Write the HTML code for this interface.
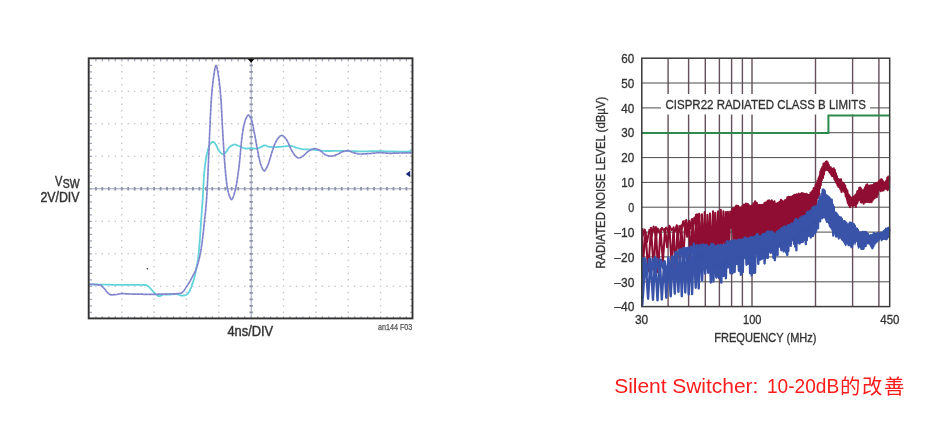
<!DOCTYPE html>
<html lang="zh"><head><meta charset="utf-8"><title>Silent Switcher</title>
<style>html,body{margin:0;padding:0;background:#fff}body{width:952px;height:442px;overflow:hidden;position:relative}svg{position:absolute;left:0;top:0;display:block}.cap{position:absolute;left:614.2px;top:371.7px;margin:0;white-space:nowrap;color:#fe1b1b;font:21px/28px "Liberation Sans","Noto Sans CJK SC",sans-serif}.cap .a{letter-spacing:-.04px}.cap .b{display:inline-block;transform:scaleX(.909);transform-origin:0 50%;margin-left:2.6px;margin-right:-7.2px}.cap .c{font-size:20.4px;letter-spacing:1.6px;margin-left:1px;position:relative;top:1.4px}</style></head><body>
<svg width="952" height="442" viewBox="0 0 952 442">
<defs><filter id="bl" x="0" y="0" width="476" height="442" filterUnits="userSpaceOnUse"><feGaussianBlur stdDeviation="0.65"/></filter><filter id="br" x="476" y="0" width="476" height="442" filterUnits="userSpaceOnUse"><feGaussianBlur stdDeviation="0.4"/></filter></defs>
<rect width="952" height="442" fill="#fff"/>
<g filter="url(#bl)">
<path d="M121.8 65.3h0.01M121.8 71.8h0.01M121.8 78.3h0.01M121.8 84.8h0.01M121.8 91.3h0.01M121.8 97.8h0.01M121.8 104.3h0.01M121.8 110.8h0.01M121.8 117.3h0.01M121.8 123.8h0.01M121.8 130.3h0.01M121.8 136.8h0.01M121.8 143.3h0.01M121.8 149.8h0.01M121.8 156.3h0.01M121.8 162.8h0.01M121.8 169.3h0.01M121.8 175.8h0.01M121.8 182.3h0.01M121.8 188.8h0.01M121.8 195.3h0.01M121.8 201.8h0.01M121.8 208.3h0.01M121.8 214.8h0.01M121.8 221.3h0.01M121.8 227.8h0.01M121.8 234.3h0.01M121.8 240.8h0.01M121.8 247.3h0.01M121.8 253.8h0.01M121.8 260.3h0.01M121.8 266.8h0.01M121.8 273.3h0.01M121.8 279.8h0.01M121.8 286.3h0.01M121.8 292.8h0.01M121.8 299.3h0.01M121.8 305.8h0.01M121.8 312.3h0.01M154.1 65.3h0.01M154.1 71.8h0.01M154.1 78.3h0.01M154.1 84.8h0.01M154.1 91.3h0.01M154.1 97.8h0.01M154.1 104.3h0.01M154.1 110.8h0.01M154.1 117.3h0.01M154.1 123.8h0.01M154.1 130.3h0.01M154.1 136.8h0.01M154.1 143.3h0.01M154.1 149.8h0.01M154.1 156.3h0.01M154.1 162.8h0.01M154.1 169.3h0.01M154.1 175.8h0.01M154.1 182.3h0.01M154.1 188.8h0.01M154.1 195.3h0.01M154.1 201.8h0.01M154.1 208.3h0.01M154.1 214.8h0.01M154.1 221.3h0.01M154.1 227.8h0.01M154.1 234.3h0.01M154.1 240.8h0.01M154.1 247.3h0.01M154.1 253.8h0.01M154.1 260.3h0.01M154.1 266.8h0.01M154.1 273.3h0.01M154.1 279.8h0.01M154.1 286.3h0.01M154.1 292.8h0.01M154.1 299.3h0.01M154.1 305.8h0.01M154.1 312.3h0.01M186.5 65.3h0.01M186.5 71.8h0.01M186.5 78.3h0.01M186.5 84.8h0.01M186.5 91.3h0.01M186.5 97.8h0.01M186.5 104.3h0.01M186.5 110.8h0.01M186.5 117.3h0.01M186.5 123.8h0.01M186.5 130.3h0.01M186.5 136.8h0.01M186.5 143.3h0.01M186.5 149.8h0.01M186.5 156.3h0.01M186.5 162.8h0.01M186.5 169.3h0.01M186.5 175.8h0.01M186.5 182.3h0.01M186.5 188.8h0.01M186.5 195.3h0.01M186.5 201.8h0.01M186.5 208.3h0.01M186.5 214.8h0.01M186.5 221.3h0.01M186.5 227.8h0.01M186.5 234.3h0.01M186.5 240.8h0.01M186.5 247.3h0.01M186.5 253.8h0.01M186.5 260.3h0.01M186.5 266.8h0.01M186.5 273.3h0.01M186.5 279.8h0.01M186.5 286.3h0.01M186.5 292.8h0.01M186.5 299.3h0.01M186.5 305.8h0.01M186.5 312.3h0.01M218.8 65.3h0.01M218.8 71.8h0.01M218.8 78.3h0.01M218.8 84.8h0.01M218.8 91.3h0.01M218.8 97.8h0.01M218.8 104.3h0.01M218.8 110.8h0.01M218.8 117.3h0.01M218.8 123.8h0.01M218.8 130.3h0.01M218.8 136.8h0.01M218.8 143.3h0.01M218.8 149.8h0.01M218.8 156.3h0.01M218.8 162.8h0.01M218.8 169.3h0.01M218.8 175.8h0.01M218.8 182.3h0.01M218.8 188.8h0.01M218.8 195.3h0.01M218.8 201.8h0.01M218.8 208.3h0.01M218.8 214.8h0.01M218.8 221.3h0.01M218.8 227.8h0.01M218.8 234.3h0.01M218.8 240.8h0.01M218.8 247.3h0.01M218.8 253.8h0.01M218.8 260.3h0.01M218.8 266.8h0.01M218.8 273.3h0.01M218.8 279.8h0.01M218.8 286.3h0.01M218.8 292.8h0.01M218.8 299.3h0.01M218.8 305.8h0.01M218.8 312.3h0.01M283.5 65.3h0.01M283.5 71.8h0.01M283.5 78.3h0.01M283.5 84.8h0.01M283.5 91.3h0.01M283.5 97.8h0.01M283.5 104.3h0.01M283.5 110.8h0.01M283.5 117.3h0.01M283.5 123.8h0.01M283.5 130.3h0.01M283.5 136.8h0.01M283.5 143.3h0.01M283.5 149.8h0.01M283.5 156.3h0.01M283.5 162.8h0.01M283.5 169.3h0.01M283.5 175.8h0.01M283.5 182.3h0.01M283.5 188.8h0.01M283.5 195.3h0.01M283.5 201.8h0.01M283.5 208.3h0.01M283.5 214.8h0.01M283.5 221.3h0.01M283.5 227.8h0.01M283.5 234.3h0.01M283.5 240.8h0.01M283.5 247.3h0.01M283.5 253.8h0.01M283.5 260.3h0.01M283.5 266.8h0.01M283.5 273.3h0.01M283.5 279.8h0.01M283.5 286.3h0.01M283.5 292.8h0.01M283.5 299.3h0.01M283.5 305.8h0.01M283.5 312.3h0.01M315.9 65.3h0.01M315.9 71.8h0.01M315.9 78.3h0.01M315.9 84.8h0.01M315.9 91.3h0.01M315.9 97.8h0.01M315.9 104.3h0.01M315.9 110.8h0.01M315.9 117.3h0.01M315.9 123.8h0.01M315.9 130.3h0.01M315.9 136.8h0.01M315.9 143.3h0.01M315.9 149.8h0.01M315.9 156.3h0.01M315.9 162.8h0.01M315.9 169.3h0.01M315.9 175.8h0.01M315.9 182.3h0.01M315.9 188.8h0.01M315.9 195.3h0.01M315.9 201.8h0.01M315.9 208.3h0.01M315.9 214.8h0.01M315.9 221.3h0.01M315.9 227.8h0.01M315.9 234.3h0.01M315.9 240.8h0.01M315.9 247.3h0.01M315.9 253.8h0.01M315.9 260.3h0.01M315.9 266.8h0.01M315.9 273.3h0.01M315.9 279.8h0.01M315.9 286.3h0.01M315.9 292.8h0.01M315.9 299.3h0.01M315.9 305.8h0.01M315.9 312.3h0.01M348.2 65.3h0.01M348.2 71.8h0.01M348.2 78.3h0.01M348.2 84.8h0.01M348.2 91.3h0.01M348.2 97.8h0.01M348.2 104.3h0.01M348.2 110.8h0.01M348.2 117.3h0.01M348.2 123.8h0.01M348.2 130.3h0.01M348.2 136.8h0.01M348.2 143.3h0.01M348.2 149.8h0.01M348.2 156.3h0.01M348.2 162.8h0.01M348.2 169.3h0.01M348.2 175.8h0.01M348.2 182.3h0.01M348.2 188.8h0.01M348.2 195.3h0.01M348.2 201.8h0.01M348.2 208.3h0.01M348.2 214.8h0.01M348.2 221.3h0.01M348.2 227.8h0.01M348.2 234.3h0.01M348.2 240.8h0.01M348.2 247.3h0.01M348.2 253.8h0.01M348.2 260.3h0.01M348.2 266.8h0.01M348.2 273.3h0.01M348.2 279.8h0.01M348.2 286.3h0.01M348.2 292.8h0.01M348.2 299.3h0.01M348.2 305.8h0.01M348.2 312.3h0.01M380.6 65.3h0.01M380.6 71.8h0.01M380.6 78.3h0.01M380.6 84.8h0.01M380.6 91.3h0.01M380.6 97.8h0.01M380.6 104.3h0.01M380.6 110.8h0.01M380.6 117.3h0.01M380.6 123.8h0.01M380.6 130.3h0.01M380.6 136.8h0.01M380.6 143.3h0.01M380.6 149.8h0.01M380.6 156.3h0.01M380.6 162.8h0.01M380.6 169.3h0.01M380.6 175.8h0.01M380.6 182.3h0.01M380.6 188.8h0.01M380.6 195.3h0.01M380.6 201.8h0.01M380.6 208.3h0.01M380.6 214.8h0.01M380.6 221.3h0.01M380.6 227.8h0.01M380.6 234.3h0.01M380.6 240.8h0.01M380.6 247.3h0.01M380.6 253.8h0.01M380.6 260.3h0.01M380.6 266.8h0.01M380.6 273.3h0.01M380.6 279.8h0.01M380.6 286.3h0.01M380.6 292.8h0.01M380.6 299.3h0.01M380.6 305.8h0.01M380.6 312.3h0.01M95.9 91.3h0.01M102.3 91.3h0.01M108.8 91.3h0.01M115.3 91.3h0.01M121.8 91.3h0.01M128.2 91.3h0.01M134.7 91.3h0.01M141.2 91.3h0.01M147.6 91.3h0.01M154.1 91.3h0.01M160.6 91.3h0.01M167.0 91.3h0.01M173.5 91.3h0.01M180.0 91.3h0.01M186.5 91.3h0.01M192.9 91.3h0.01M199.4 91.3h0.01M205.9 91.3h0.01M212.3 91.3h0.01M218.8 91.3h0.01M225.3 91.3h0.01M231.7 91.3h0.01M238.2 91.3h0.01M244.7 91.3h0.01M251.2 91.3h0.01M257.6 91.3h0.01M264.1 91.3h0.01M270.6 91.3h0.01M277.0 91.3h0.01M283.5 91.3h0.01M290.0 91.3h0.01M296.4 91.3h0.01M302.9 91.3h0.01M309.4 91.3h0.01M315.9 91.3h0.01M322.3 91.3h0.01M328.8 91.3h0.01M335.3 91.3h0.01M341.7 91.3h0.01M348.2 91.3h0.01M354.7 91.3h0.01M361.1 91.3h0.01M367.6 91.3h0.01M374.1 91.3h0.01M380.6 91.3h0.01M387.0 91.3h0.01M393.5 91.3h0.01M400.0 91.3h0.01M406.4 91.3h0.01M95.9 123.8h0.01M102.3 123.8h0.01M108.8 123.8h0.01M115.3 123.8h0.01M121.8 123.8h0.01M128.2 123.8h0.01M134.7 123.8h0.01M141.2 123.8h0.01M147.6 123.8h0.01M154.1 123.8h0.01M160.6 123.8h0.01M167.0 123.8h0.01M173.5 123.8h0.01M180.0 123.8h0.01M186.5 123.8h0.01M192.9 123.8h0.01M199.4 123.8h0.01M205.9 123.8h0.01M212.3 123.8h0.01M218.8 123.8h0.01M225.3 123.8h0.01M231.7 123.8h0.01M238.2 123.8h0.01M244.7 123.8h0.01M251.2 123.8h0.01M257.6 123.8h0.01M264.1 123.8h0.01M270.6 123.8h0.01M277.0 123.8h0.01M283.5 123.8h0.01M290.0 123.8h0.01M296.4 123.8h0.01M302.9 123.8h0.01M309.4 123.8h0.01M315.9 123.8h0.01M322.3 123.8h0.01M328.8 123.8h0.01M335.3 123.8h0.01M341.7 123.8h0.01M348.2 123.8h0.01M354.7 123.8h0.01M361.1 123.8h0.01M367.6 123.8h0.01M374.1 123.8h0.01M380.6 123.8h0.01M387.0 123.8h0.01M393.5 123.8h0.01M400.0 123.8h0.01M406.4 123.8h0.01M95.9 156.3h0.01M102.3 156.3h0.01M108.8 156.3h0.01M115.3 156.3h0.01M121.8 156.3h0.01M128.2 156.3h0.01M134.7 156.3h0.01M141.2 156.3h0.01M147.6 156.3h0.01M154.1 156.3h0.01M160.6 156.3h0.01M167.0 156.3h0.01M173.5 156.3h0.01M180.0 156.3h0.01M186.5 156.3h0.01M192.9 156.3h0.01M199.4 156.3h0.01M205.9 156.3h0.01M212.3 156.3h0.01M218.8 156.3h0.01M225.3 156.3h0.01M231.7 156.3h0.01M238.2 156.3h0.01M244.7 156.3h0.01M251.2 156.3h0.01M257.6 156.3h0.01M264.1 156.3h0.01M270.6 156.3h0.01M277.0 156.3h0.01M283.5 156.3h0.01M290.0 156.3h0.01M296.4 156.3h0.01M302.9 156.3h0.01M309.4 156.3h0.01M315.9 156.3h0.01M322.3 156.3h0.01M328.8 156.3h0.01M335.3 156.3h0.01M341.7 156.3h0.01M348.2 156.3h0.01M354.7 156.3h0.01M361.1 156.3h0.01M367.6 156.3h0.01M374.1 156.3h0.01M380.6 156.3h0.01M387.0 156.3h0.01M393.5 156.3h0.01M400.0 156.3h0.01M406.4 156.3h0.01M95.9 221.3h0.01M102.3 221.3h0.01M108.8 221.3h0.01M115.3 221.3h0.01M121.8 221.3h0.01M128.2 221.3h0.01M134.7 221.3h0.01M141.2 221.3h0.01M147.6 221.3h0.01M154.1 221.3h0.01M160.6 221.3h0.01M167.0 221.3h0.01M173.5 221.3h0.01M180.0 221.3h0.01M186.5 221.3h0.01M192.9 221.3h0.01M199.4 221.3h0.01M205.9 221.3h0.01M212.3 221.3h0.01M218.8 221.3h0.01M225.3 221.3h0.01M231.7 221.3h0.01M238.2 221.3h0.01M244.7 221.3h0.01M251.2 221.3h0.01M257.6 221.3h0.01M264.1 221.3h0.01M270.6 221.3h0.01M277.0 221.3h0.01M283.5 221.3h0.01M290.0 221.3h0.01M296.4 221.3h0.01M302.9 221.3h0.01M309.4 221.3h0.01M315.9 221.3h0.01M322.3 221.3h0.01M328.8 221.3h0.01M335.3 221.3h0.01M341.7 221.3h0.01M348.2 221.3h0.01M354.7 221.3h0.01M361.1 221.3h0.01M367.6 221.3h0.01M374.1 221.3h0.01M380.6 221.3h0.01M387.0 221.3h0.01M393.5 221.3h0.01M400.0 221.3h0.01M406.4 221.3h0.01M95.9 253.8h0.01M102.3 253.8h0.01M108.8 253.8h0.01M115.3 253.8h0.01M121.8 253.8h0.01M128.2 253.8h0.01M134.7 253.8h0.01M141.2 253.8h0.01M147.6 253.8h0.01M154.1 253.8h0.01M160.6 253.8h0.01M167.0 253.8h0.01M173.5 253.8h0.01M180.0 253.8h0.01M186.5 253.8h0.01M192.9 253.8h0.01M199.4 253.8h0.01M205.9 253.8h0.01M212.3 253.8h0.01M218.8 253.8h0.01M225.3 253.8h0.01M231.7 253.8h0.01M238.2 253.8h0.01M244.7 253.8h0.01M251.2 253.8h0.01M257.6 253.8h0.01M264.1 253.8h0.01M270.6 253.8h0.01M277.0 253.8h0.01M283.5 253.8h0.01M290.0 253.8h0.01M296.4 253.8h0.01M302.9 253.8h0.01M309.4 253.8h0.01M315.9 253.8h0.01M322.3 253.8h0.01M328.8 253.8h0.01M335.3 253.8h0.01M341.7 253.8h0.01M348.2 253.8h0.01M354.7 253.8h0.01M361.1 253.8h0.01M367.6 253.8h0.01M374.1 253.8h0.01M380.6 253.8h0.01M387.0 253.8h0.01M393.5 253.8h0.01M400.0 253.8h0.01M406.4 253.8h0.01M95.9 286.3h0.01M102.3 286.3h0.01M108.8 286.3h0.01M115.3 286.3h0.01M121.8 286.3h0.01M128.2 286.3h0.01M134.7 286.3h0.01M141.2 286.3h0.01M147.6 286.3h0.01M154.1 286.3h0.01M160.6 286.3h0.01M167.0 286.3h0.01M173.5 286.3h0.01M180.0 286.3h0.01M186.5 286.3h0.01M192.9 286.3h0.01M199.4 286.3h0.01M205.9 286.3h0.01M212.3 286.3h0.01M218.8 286.3h0.01M225.3 286.3h0.01M231.7 286.3h0.01M238.2 286.3h0.01M244.7 286.3h0.01M251.2 286.3h0.01M257.6 286.3h0.01M264.1 286.3h0.01M270.6 286.3h0.01M277.0 286.3h0.01M283.5 286.3h0.01M290.0 286.3h0.01M296.4 286.3h0.01M302.9 286.3h0.01M309.4 286.3h0.01M315.9 286.3h0.01M322.3 286.3h0.01M328.8 286.3h0.01M335.3 286.3h0.01M341.7 286.3h0.01M348.2 286.3h0.01M354.7 286.3h0.01M361.1 286.3h0.01M367.6 286.3h0.01M374.1 286.3h0.01M380.6 286.3h0.01M387.0 286.3h0.01M393.5 286.3h0.01M400.0 286.3h0.01M406.4 286.3h0.01" stroke="#bbbfca" stroke-width="1.6" stroke-linecap="round" fill="none"/>
<path d="M89.4 188.8H412.9M251.2 58.8V318.8" stroke="#9096aa" stroke-width="0.9" fill="none"/>
<path d="M95.9 187.1v3.4M102.3 187.1v3.4M108.8 187.1v3.4M115.3 187.1v3.4M121.8 187.1v3.4M128.2 187.1v3.4M134.7 187.1v3.4M141.2 187.1v3.4M147.6 187.1v3.4M154.1 187.1v3.4M160.6 187.1v3.4M167.0 187.1v3.4M173.5 187.1v3.4M180.0 187.1v3.4M186.5 187.1v3.4M192.9 187.1v3.4M199.4 187.1v3.4M205.9 187.1v3.4M212.3 187.1v3.4M218.8 187.1v3.4M225.3 187.1v3.4M231.7 187.1v3.4M238.2 187.1v3.4M244.7 187.1v3.4M251.2 187.1v3.4M257.6 187.1v3.4M264.1 187.1v3.4M270.6 187.1v3.4M277.0 187.1v3.4M283.5 187.1v3.4M290.0 187.1v3.4M296.4 187.1v3.4M302.9 187.1v3.4M309.4 187.1v3.4M315.9 187.1v3.4M322.3 187.1v3.4M328.8 187.1v3.4M335.3 187.1v3.4M341.7 187.1v3.4M348.2 187.1v3.4M354.7 187.1v3.4M361.1 187.1v3.4M367.6 187.1v3.4M374.1 187.1v3.4M380.6 187.1v3.4M387.0 187.1v3.4M393.5 187.1v3.4M400.0 187.1v3.4M406.4 187.1v3.4M249.5 65.3h3.4M249.5 71.8h3.4M249.5 78.3h3.4M249.5 84.8h3.4M249.5 91.3h3.4M249.5 97.8h3.4M249.5 104.3h3.4M249.5 110.8h3.4M249.5 117.3h3.4M249.5 123.8h3.4M249.5 130.3h3.4M249.5 136.8h3.4M249.5 143.3h3.4M249.5 149.8h3.4M249.5 156.3h3.4M249.5 162.8h3.4M249.5 169.3h3.4M249.5 175.8h3.4M249.5 182.3h3.4M249.5 188.8h3.4M249.5 195.3h3.4M249.5 201.8h3.4M249.5 208.3h3.4M249.5 214.8h3.4M249.5 221.3h3.4M249.5 227.8h3.4M249.5 234.3h3.4M249.5 240.8h3.4M249.5 247.3h3.4M249.5 253.8h3.4M249.5 260.3h3.4M249.5 266.8h3.4M249.5 273.3h3.4M249.5 279.8h3.4M249.5 286.3h3.4M249.5 292.8h3.4M249.5 299.3h3.4M249.5 305.8h3.4M249.5 312.3h3.4" stroke="#8d93a8" stroke-width="1.8" fill="none"/>
<path d="M95.9 58.8v2.6M95.9 318.8v-2.6M102.3 58.8v2.6M102.3 318.8v-2.6M108.8 58.8v2.6M108.8 318.8v-2.6M115.3 58.8v2.6M115.3 318.8v-2.6M121.8 58.8v2.6M121.8 318.8v-2.6M128.2 58.8v2.6M128.2 318.8v-2.6M134.7 58.8v2.6M134.7 318.8v-2.6M141.2 58.8v2.6M141.2 318.8v-2.6M147.6 58.8v2.6M147.6 318.8v-2.6M154.1 58.8v2.6M154.1 318.8v-2.6M160.6 58.8v2.6M160.6 318.8v-2.6M167.0 58.8v2.6M167.0 318.8v-2.6M173.5 58.8v2.6M173.5 318.8v-2.6M180.0 58.8v2.6M180.0 318.8v-2.6M186.5 58.8v2.6M186.5 318.8v-2.6M192.9 58.8v2.6M192.9 318.8v-2.6M199.4 58.8v2.6M199.4 318.8v-2.6M205.9 58.8v2.6M205.9 318.8v-2.6M212.3 58.8v2.6M212.3 318.8v-2.6M218.8 58.8v2.6M218.8 318.8v-2.6M225.3 58.8v2.6M225.3 318.8v-2.6M231.7 58.8v2.6M231.7 318.8v-2.6M238.2 58.8v2.6M238.2 318.8v-2.6M244.7 58.8v2.6M244.7 318.8v-2.6M251.2 58.8v2.6M251.2 318.8v-2.6M257.6 58.8v2.6M257.6 318.8v-2.6M264.1 58.8v2.6M264.1 318.8v-2.6M270.6 58.8v2.6M270.6 318.8v-2.6M277.0 58.8v2.6M277.0 318.8v-2.6M283.5 58.8v2.6M283.5 318.8v-2.6M290.0 58.8v2.6M290.0 318.8v-2.6M296.4 58.8v2.6M296.4 318.8v-2.6M302.9 58.8v2.6M302.9 318.8v-2.6M309.4 58.8v2.6M309.4 318.8v-2.6M315.9 58.8v2.6M315.9 318.8v-2.6M322.3 58.8v2.6M322.3 318.8v-2.6M328.8 58.8v2.6M328.8 318.8v-2.6M335.3 58.8v2.6M335.3 318.8v-2.6M341.7 58.8v2.6M341.7 318.8v-2.6M348.2 58.8v2.6M348.2 318.8v-2.6M354.7 58.8v2.6M354.7 318.8v-2.6M361.1 58.8v2.6M361.1 318.8v-2.6M367.6 58.8v2.6M367.6 318.8v-2.6M374.1 58.8v2.6M374.1 318.8v-2.6M380.6 58.8v2.6M380.6 318.8v-2.6M387.0 58.8v2.6M387.0 318.8v-2.6M393.5 58.8v2.6M393.5 318.8v-2.6M400.0 58.8v2.6M400.0 318.8v-2.6M406.4 58.8v2.6M406.4 318.8v-2.6M89.4 65.3h2.6M412.9 65.3h-2.6M89.4 71.8h2.6M412.9 71.8h-2.6M89.4 78.3h2.6M412.9 78.3h-2.6M89.4 84.8h2.6M412.9 84.8h-2.6M89.4 91.3h2.6M412.9 91.3h-2.6M89.4 97.8h2.6M412.9 97.8h-2.6M89.4 104.3h2.6M412.9 104.3h-2.6M89.4 110.8h2.6M412.9 110.8h-2.6M89.4 117.3h2.6M412.9 117.3h-2.6M89.4 123.8h2.6M412.9 123.8h-2.6M89.4 130.3h2.6M412.9 130.3h-2.6M89.4 136.8h2.6M412.9 136.8h-2.6M89.4 143.3h2.6M412.9 143.3h-2.6M89.4 149.8h2.6M412.9 149.8h-2.6M89.4 156.3h2.6M412.9 156.3h-2.6M89.4 162.8h2.6M412.9 162.8h-2.6M89.4 169.3h2.6M412.9 169.3h-2.6M89.4 175.8h2.6M412.9 175.8h-2.6M89.4 182.3h2.6M412.9 182.3h-2.6M89.4 188.8h2.6M412.9 188.8h-2.6M89.4 195.3h2.6M412.9 195.3h-2.6M89.4 201.8h2.6M412.9 201.8h-2.6M89.4 208.3h2.6M412.9 208.3h-2.6M89.4 214.8h2.6M412.9 214.8h-2.6M89.4 221.3h2.6M412.9 221.3h-2.6M89.4 227.8h2.6M412.9 227.8h-2.6M89.4 234.3h2.6M412.9 234.3h-2.6M89.4 240.8h2.6M412.9 240.8h-2.6M89.4 247.3h2.6M412.9 247.3h-2.6M89.4 253.8h2.6M412.9 253.8h-2.6M89.4 260.3h2.6M412.9 260.3h-2.6M89.4 266.8h2.6M412.9 266.8h-2.6M89.4 273.3h2.6M412.9 273.3h-2.6M89.4 279.8h2.6M412.9 279.8h-2.6M89.4 286.3h2.6M412.9 286.3h-2.6M89.4 292.8h2.6M412.9 292.8h-2.6M89.4 299.3h2.6M412.9 299.3h-2.6M89.4 305.8h2.6M412.9 305.8h-2.6M89.4 312.3h2.6M412.9 312.3h-2.6" stroke="#a0a6b8" stroke-width="1.2" fill="none"/>
<path d="M89.5 284.3L90.5 284.3L91.5 284.4L92.5 284.4L93.5 284.4L94.5 284.5L95.5 284.5L96.5 284.5L97.5 284.6L98.5 284.6L99.5 284.6L100.5 284.6L101.5 284.6L102.5 284.6L103.5 284.7L104.5 284.7L105.5 284.7L106.5 284.7L107.5 284.7L108.5 284.7L109.5 284.7L110.5 284.7L111.5 284.8L112.5 284.8L113.5 284.8L114.5 284.8L115.5 284.8L116.5 284.8L117.5 284.8L118.5 284.8L119.5 284.8L120.5 284.8L121.5 284.8L122.5 284.8L123.5 284.8L124.5 284.8L125.5 284.8L126.5 284.8L127.5 284.8L128.5 284.8L129.5 284.8L130.5 284.8L131.5 284.8L132.5 284.8L133.5 284.8L134.5 284.8L135.5 284.8L136.5 284.8L137.5 284.8L138.5 284.8L139.5 284.8L140.5 284.8L141.5 284.8L142.6 284.9L143.6 284.9L144.6 285.0L145.6 285.1L146.5 285.2L147.3 285.5L148.1 286.1L148.9 286.9L149.6 287.6L150.4 288.3L151.0 289.1L151.7 289.8L152.4 290.6L153.0 291.4L153.7 292.1L154.4 292.8L155.1 293.5L155.9 294.2L156.7 294.9L157.6 295.6L158.4 296.0L159.3 296.2L160.2 296.0L161.1 295.4L162.0 294.9L163.0 294.6L163.9 294.6L164.9 294.6L165.9 294.5L166.9 294.5L168.0 294.5L169.0 294.5L170.0 294.5L171.0 294.4L172.0 294.4L173.0 294.2L174.0 294.1L175.0 294.0L176.0 294.0L176.9 294.1L177.9 294.4L178.8 294.8L179.8 295.2L180.8 295.5L181.7 295.7L182.7 295.7L183.8 295.5L184.8 295.3L185.7 295.1L186.5 294.7L187.3 294.1L188.0 293.3L188.7 292.5L189.2 291.7L189.7 290.8L190.1 289.9L190.5 289.0L190.9 288.1L191.3 287.1L191.6 286.1L191.9 285.2L192.3 284.2L192.6 283.3L192.9 282.4L193.2 281.4L193.5 280.4L193.8 279.5L194.1 278.5L194.3 277.5L194.6 276.6L194.8 275.6L195.0 274.6L195.2 273.7L195.5 272.7L195.7 271.7L195.9 270.7L196.1 269.8L196.3 268.8L196.5 267.8L196.7 266.8L196.9 265.8L197.1 264.8L197.2 263.8L197.4 262.9L197.6 261.9L197.7 260.9L197.9 259.9L198.0 258.9L198.1 257.9L198.3 256.9L198.4 255.9L198.5 254.9L198.6 254.0L198.7 253.0L198.8 252.0L198.9 251.0L199.0 250.0L199.1 249.0L199.2 248.0L199.3 247.0L199.3 246.0L199.4 245.0L199.5 244.0L199.6 243.0L199.7 242.0L199.7 241.0L199.8 240.0L199.9 239.0L199.9 238.0L200.0 237.0L200.1 236.0L200.2 235.0L200.2 234.0L200.3 233.0L200.4 232.0L200.4 231.0L200.5 230.0L200.6 229.0L200.6 228.0L200.7 227.0L200.8 226.0L200.8 225.0L200.9 224.0L201.0 223.0L201.0 222.0L201.1 221.0L201.2 220.0L201.3 219.0L201.3 218.0L201.4 217.0L201.5 216.1L201.6 215.1L201.6 214.1L201.7 213.1L201.8 212.1L201.8 211.1L201.9 210.1L202.0 209.1L202.0 208.1L202.1 207.1L202.2 206.1L202.3 205.1L202.3 204.1L202.4 203.1L202.5 202.1L202.5 201.1L202.6 200.1L202.7 199.1L202.7 198.1L202.8 197.1L202.8 196.1L202.9 195.1L203.0 194.1L203.0 193.1L203.1 192.1L203.1 191.1L203.2 190.1L203.2 189.1L203.3 188.1L203.3 187.1L203.4 186.1L203.4 185.1L203.5 184.1L203.6 183.1L203.6 182.1L203.7 181.1L203.7 180.1L203.8 179.1L203.9 178.1L203.9 177.1L204.0 176.1L204.1 175.1L204.1 174.1L204.2 173.1L204.3 172.1L204.4 171.1L204.5 170.1L204.6 169.2L204.7 168.2L204.8 167.2L204.9 166.2L205.0 165.2L205.2 164.2L205.3 163.2L205.5 162.2L205.6 161.2L205.8 160.2L205.9 159.2L206.1 158.2L206.3 157.2L206.5 156.2L206.7 155.3L206.9 154.3L207.1 153.3L207.3 152.4L207.6 151.4L207.8 150.4L208.0 149.4L208.3 148.4L208.6 147.4L209.0 146.4L209.3 145.4L209.8 144.6L210.2 143.8L210.9 143.1L211.7 142.4L212.7 141.9L213.4 141.9L214.2 142.4L214.9 143.2L215.5 144.2L216.1 145.1L216.6 146.0L217.0 146.9L217.4 147.8L217.8 148.7L218.3 149.6L218.8 150.4L219.4 151.3L220.1 152.1L220.7 152.8L221.5 153.4L222.5 154.0L223.4 154.3L224.2 154.1L224.9 153.3L225.6 152.5L226.3 151.7L226.9 150.9L227.4 150.0L227.9 149.1L228.5 148.3L229.1 147.5L229.8 146.8L230.6 146.2L231.4 145.6L232.3 145.2L233.2 144.8L234.2 144.5L235.2 144.5L236.2 144.8L237.1 145.2L238.0 145.7L238.9 146.1L239.8 146.5L240.8 146.9L241.7 147.3L242.6 147.7L243.6 148.0L244.6 148.3L245.5 148.5L246.5 148.6L247.5 148.5L248.5 148.4L249.5 148.2L250.5 148.1L251.5 148.1L252.5 148.2L253.5 148.4L254.5 148.6L255.4 148.6L256.4 148.5L257.4 148.3L258.4 148.0L259.4 147.7L260.3 147.4L261.2 146.9L262.1 146.4L263.0 145.9L263.9 145.4L264.8 145.3L265.8 145.5L266.7 146.0L267.6 146.4L268.6 146.6L269.6 146.8L270.6 146.9L271.6 147.0L272.6 147.1L273.6 147.2L274.6 147.2L275.6 147.2L276.6 147.1L277.6 147.0L278.6 146.9L279.6 146.8L280.6 146.8L281.6 146.7L282.6 146.6L283.6 146.5L284.6 146.4L285.6 146.3L286.6 146.2L287.6 146.1L288.6 146.1L289.6 146.0L290.6 146.0L291.5 146.0L292.5 146.2L293.5 146.5L294.4 146.9L295.4 147.3L296.3 147.6L297.3 147.9L298.3 148.1L299.2 148.4L300.2 148.7L301.2 148.9L302.1 149.1L303.1 149.3L304.1 149.3L305.1 149.4L306.1 149.4L307.1 149.4L308.1 149.4L309.1 149.5L310.1 149.5L311.1 149.6L312.1 149.6L313.1 149.7L314.1 149.8L315.1 149.9L316.1 150.0L317.1 150.1L318.1 150.2L319.1 150.3L320.1 150.5L321.1 150.6L322.1 150.7L323.1 150.8L324.1 150.9L325.1 150.9L326.1 151.0L327.1 151.0L328.1 151.0L329.1 151.0L330.1 151.0L331.1 151.0L332.1 150.9L333.1 150.9L334.1 150.9L335.1 150.9L336.1 150.8L337.1 150.8L338.1 150.8L339.1 150.8L340.1 150.8L341.1 150.8L342.1 150.8L343.1 150.8L344.1 150.9L345.1 150.9L346.1 150.9L347.1 150.9L348.1 151.0L349.1 151.0L350.0 151.1L351.0 151.1L352.0 151.1L353.0 151.2L354.0 151.2L355.0 151.2L356.0 151.2L357.0 151.3L358.0 151.3L359.0 151.3L360.0 151.3L361.0 151.3L362.0 151.3L363.0 151.3L364.0 151.3L365.0 151.3L366.0 151.3L367.0 151.3L368.0 151.3L369.0 151.3L370.0 151.2L371.0 151.2L372.0 151.2L373.0 151.2L374.0 151.2L375.0 151.2L376.0 151.2L377.0 151.2L378.0 151.2L379.0 151.2L380.0 151.2L381.0 151.2L382.0 151.2L383.0 151.2L384.0 151.2L385.0 151.3L386.0 151.3L387.0 151.3L388.0 151.3L389.0 151.4L390.0 151.4L391.0 151.4L392.0 151.5L393.0 151.5L394.0 151.5L395.0 151.5L396.0 151.6L397.0 151.6L398.0 151.6L399.0 151.6L400.0 151.6L401.0 151.6L402.0 151.6L403.0 151.6L404.0 151.6L405.0 151.6L406.0 151.6L407.0 151.6L408.0 151.6L409.0 151.5L410.0 151.5L411.0 151.5L411.5 151.5" stroke="#64d3db" stroke-width="1.8" fill="none" stroke-linejoin="round"/>
<path d="M89.5 284.3L90.6 284.3L91.7 284.3L92.8 284.4L93.8 284.4L94.8 284.5L95.8 284.5L96.8 284.6L97.7 284.7L98.6 284.8L99.5 285.0L100.4 285.2L101.2 285.6L102.0 286.3L102.8 287.0L103.5 287.8L104.2 288.5L104.9 289.3L105.5 290.1L106.1 290.9L106.7 291.7L107.4 292.5L108.1 293.1L108.9 293.8L109.8 294.4L110.7 294.8L111.6 294.8L112.6 294.8L113.6 294.7L114.6 294.7L115.7 294.6L116.7 294.5L117.6 294.3L118.6 294.0L119.6 293.8L120.6 293.6L121.6 293.6L122.5 293.6L123.5 293.7L124.5 293.7L125.5 293.8L126.5 293.8L127.5 293.9L128.6 293.9L129.6 294.0L130.6 294.0L131.6 294.0L132.6 294.1L133.6 294.1L134.6 294.1L135.6 294.1L136.6 294.1L137.6 294.2L138.6 294.2L139.6 294.2L140.6 294.2L141.6 294.2L142.6 294.2L143.6 294.3L144.6 294.3L145.6 294.3L146.6 294.3L147.6 294.3L148.6 294.3L149.6 294.3L150.6 294.3L151.6 294.3L152.6 294.3L153.6 294.3L154.6 294.3L155.6 294.3L156.6 294.3L157.6 294.3L158.6 294.2L159.6 294.2L160.6 294.2L161.6 294.2L162.6 294.2L163.6 294.2L164.6 294.1L165.6 294.1L166.6 294.1L167.6 294.1L168.5 294.0L169.5 294.0L170.6 294.0L171.6 294.0L172.6 293.9L173.7 293.9L174.8 293.8L175.8 293.8L176.9 293.7L177.9 293.6L178.8 293.5L179.7 293.4L180.5 293.3L181.3 293.1L182.0 292.6L182.7 292.0L183.4 291.3L184.1 290.5L184.7 289.6L185.3 288.6L185.9 287.6L186.5 286.7L187.1 285.8L187.7 284.9L188.2 284.1L188.7 283.3L189.3 282.4L189.8 281.5L190.3 280.7L190.7 279.8L191.2 278.9L191.7 278.0L192.2 277.1L192.6 276.2L193.1 275.3L193.5 274.5L194.0 273.6L194.5 272.7L194.9 271.8L195.4 270.9L195.7 270.0L196.1 269.0L196.4 268.1L196.8 267.2L197.1 266.2L197.4 265.3L197.7 264.3L198.0 263.3L198.3 262.4L198.5 261.4L198.8 260.4L199.0 259.5L199.3 258.5L199.5 257.5L199.7 256.5L199.9 255.6L200.1 254.6L200.3 253.6L200.5 252.6L200.7 251.6L200.9 250.7L201.0 249.7L201.2 248.7L201.3 247.7L201.5 246.7L201.6 245.7L201.8 244.7L201.9 243.7L202.0 242.7L202.2 241.7L202.3 240.8L202.4 239.8L202.5 238.8L202.7 237.8L202.8 236.8L202.9 235.8L203.0 234.8L203.1 233.8L203.3 232.8L203.4 231.8L203.5 230.8L203.6 229.8L203.7 228.8L203.8 227.8L203.9 226.8L204.0 225.8L204.1 224.9L204.2 223.9L204.3 222.9L204.4 221.9L204.5 220.9L204.6 219.9L204.7 218.9L204.8 217.9L204.9 216.9L205.0 215.9L205.1 214.9L205.3 213.9L205.4 212.9L205.5 211.9L205.6 210.9L205.7 209.9L205.7 208.9L205.8 207.9L205.9 206.9L206.0 205.9L206.1 204.9L206.2 204.0L206.3 203.0L206.4 202.0L206.4 201.0L206.5 200.0L206.6 199.0L206.6 198.0L206.7 197.0L206.8 196.0L206.8 195.0L206.9 194.0L206.9 193.0L207.0 192.0L207.1 191.0L207.1 190.0L207.2 189.0L207.2 188.0L207.3 187.0L207.3 186.0L207.4 185.0L207.4 184.0L207.5 183.0L207.5 182.0L207.6 181.0L207.6 180.0L207.7 179.0L207.7 178.0L207.8 177.0L207.8 176.0L207.9 175.0L207.9 174.0L208.0 173.0L208.0 172.0L208.1 171.0L208.1 170.0L208.1 169.0L208.2 168.0L208.2 167.0L208.3 166.0L208.3 165.0L208.4 164.0L208.4 163.0L208.5 162.0L208.5 161.0L208.5 160.0L208.6 159.0L208.6 158.0L208.7 157.0L208.7 156.0L208.8 155.0L208.8 154.0L208.8 153.0L208.9 152.0L208.9 151.0L209.0 150.0L209.0 149.0L209.0 148.0L209.1 147.0L209.1 146.0L209.2 145.0L209.2 144.0L209.2 143.0L209.3 142.0L209.3 141.0L209.4 140.0L209.4 139.0L209.4 138.0L209.5 137.0L209.5 136.0L209.6 135.0L209.6 134.0L209.7 133.0L209.7 132.0L209.8 131.0L209.8 130.0L209.8 129.0L209.9 128.0L209.9 127.0L210.0 126.0L210.0 125.0L210.1 124.1L210.1 123.1L210.2 122.1L210.2 121.1L210.2 120.1L210.3 119.1L210.3 118.1L210.4 117.1L210.4 116.1L210.5 115.1L210.5 114.1L210.6 113.1L210.6 112.1L210.7 111.1L210.7 110.1L210.8 109.1L210.8 108.1L210.9 107.1L210.9 106.1L211.0 105.1L211.0 104.1L211.1 103.1L211.2 102.1L211.2 101.1L211.3 100.1L211.4 99.1L211.4 98.1L211.5 97.1L211.6 96.1L211.7 95.1L211.7 94.1L211.8 93.1L211.9 92.1L212.0 91.1L212.1 90.1L212.2 89.1L212.3 88.1L212.4 87.1L212.5 86.1L212.6 85.1L212.7 84.1L212.8 83.1L212.9 82.1L213.0 81.1L213.2 80.2L213.3 79.2L213.4 78.2L213.6 77.2L213.7 76.2L213.9 75.0L214.1 73.8L214.3 72.5L214.5 71.2L214.7 69.9L214.9 68.7L215.2 67.6L215.4 66.7L215.6 66.0L215.9 65.6L216.1 65.4L216.3 65.5L216.5 66.0L216.8 66.6L217.0 67.5L217.2 68.6L217.4 69.7L217.7 71.0L217.9 72.3L218.1 73.6L218.3 74.8L218.5 76.0L218.6 77.1L218.8 78.1L218.9 79.0L219.0 80.0L219.2 81.0L219.3 82.0L219.4 83.0L219.5 84.0L219.6 85.0L219.7 86.0L219.9 87.0L220.0 88.0L220.1 89.0L220.2 90.0L220.3 91.0L220.3 92.0L220.4 93.0L220.5 94.0L220.6 95.0L220.7 96.0L220.8 97.0L220.8 98.0L220.9 98.9L221.0 99.9L221.1 100.9L221.1 101.9L221.2 102.9L221.3 103.9L221.3 104.9L221.4 105.9L221.4 106.9L221.5 107.9L221.5 108.9L221.6 109.9L221.6 110.9L221.7 111.9L221.7 112.9L221.8 113.9L221.8 114.9L221.9 115.9L221.9 116.9L222.0 117.9L222.0 118.9L222.1 119.9L222.1 120.9L222.2 121.9L222.2 122.9L222.3 123.9L222.3 124.9L222.4 125.9L222.4 126.9L222.5 127.9L222.5 128.9L222.6 129.9L222.7 130.9L222.7 131.9L222.8 132.9L222.8 133.9L222.9 134.9L222.9 135.9L223.0 136.9L223.1 137.9L223.1 138.9L223.2 139.9L223.2 140.9L223.3 141.9L223.4 142.9L223.4 143.9L223.5 144.9L223.5 145.9L223.6 146.9L223.7 147.9L223.7 148.9L223.8 149.9L223.8 150.9L223.9 151.9L224.0 152.9L224.0 153.9L224.1 154.9L224.2 155.9L224.2 156.9L224.3 157.9L224.4 158.9L224.5 159.9L224.5 160.9L224.6 161.8L224.7 162.8L224.8 163.8L224.9 164.8L224.9 165.8L225.0 166.8L225.1 167.8L225.2 168.8L225.3 169.8L225.4 170.8L225.5 171.8L225.6 172.8L225.6 173.8L225.7 174.8L225.8 175.8L225.9 176.8L226.0 177.8L226.1 178.8L226.3 179.8L226.4 180.8L226.5 181.8L226.6 182.8L226.8 183.8L226.9 184.8L227.0 185.8L227.2 186.8L227.4 187.8L227.5 188.7L227.7 189.7L227.9 190.7L228.1 191.6L228.4 192.8L228.8 194.0L229.2 195.2L229.6 196.4L230.0 197.5L230.5 198.4L230.9 199.1L231.3 199.5L231.7 199.6L232.1 199.3L232.5 198.7L232.9 197.8L233.3 196.8L233.7 195.6L234.1 194.3L234.4 193.1L234.8 192.0L235.0 190.9L235.3 190.0L235.5 189.0L235.7 188.1L235.9 187.1L236.1 186.1L236.3 185.1L236.5 184.1L236.7 183.2L236.8 182.2L237.0 181.2L237.2 180.2L237.3 179.2L237.5 178.2L237.6 177.2L237.7 176.2L237.9 175.2L238.0 174.2L238.2 173.2L238.3 172.2L238.4 171.2L238.6 170.2L238.7 169.2L238.8 168.3L239.0 167.3L239.1 166.3L239.2 165.3L239.3 164.3L239.4 163.3L239.5 162.3L239.6 161.3L239.7 160.3L239.8 159.3L239.9 158.3L240.0 157.3L240.1 156.3L240.2 155.3L240.3 154.3L240.4 153.3L240.4 152.3L240.5 151.3L240.6 150.3L240.7 149.3L240.8 148.3L240.9 147.3L241.0 146.3L241.1 145.3L241.2 144.3L241.3 143.3L241.4 142.3L241.5 141.3L241.6 140.3L241.7 139.3L241.8 138.4L241.9 137.4L242.1 136.4L242.2 135.4L242.3 134.4L242.5 133.4L242.6 132.4L242.8 131.4L242.9 130.5L243.1 129.5L243.3 128.5L243.4 127.5L243.6 126.5L243.9 125.5L244.1 124.5L244.3 123.5L244.6 122.5L244.9 121.6L245.2 120.6L245.5 119.7L245.9 118.8L246.3 117.9L246.8 116.8L247.5 115.8L248.1 115.1L248.7 115.0L249.3 115.6L250.0 116.5L250.6 117.5L251.0 118.5L251.4 119.4L251.7 120.3L251.9 121.3L252.2 122.2L252.4 123.2L252.7 124.2L252.9 125.2L253.1 126.2L253.3 127.2L253.4 128.2L253.6 129.2L253.8 130.2L254.0 131.2L254.2 132.2L254.4 133.1L254.6 134.1L254.8 135.1L255.0 136.1L255.2 137.1L255.3 138.1L255.5 139.0L255.7 140.0L255.8 141.0L256.0 142.0L256.2 143.0L256.4 144.0L256.5 145.0L256.7 145.9L256.9 146.9L257.1 147.9L257.3 148.9L257.5 149.9L257.7 150.8L257.9 151.8L258.1 152.8L258.3 153.8L258.4 154.8L258.6 155.8L258.8 156.8L259.1 157.8L259.3 158.8L259.5 159.7L259.7 160.7L260.0 161.7L260.2 162.6L260.5 163.6L260.8 164.5L261.2 165.4L261.5 166.5L262.0 167.7L262.5 168.8L263.0 169.8L263.5 170.5L264.1 170.9L264.6 170.8L265.2 170.2L265.8 169.3L266.4 168.3L267.0 167.2L267.4 166.1L267.8 165.3L268.2 164.4L268.5 163.4L268.9 162.5L269.2 161.5L269.5 160.6L269.7 159.6L270.0 158.6L270.3 157.7L270.6 156.7L270.8 155.7L271.1 154.7L271.4 153.8L271.7 152.8L272.0 151.9L272.4 150.9L272.7 150.0L273.0 149.0L273.4 148.0L273.7 147.0L274.0 146.1L274.4 145.1L274.8 144.2L275.2 143.2L275.6 142.3L276.0 141.5L276.5 140.6L277.0 139.8L277.5 139.0L278.2 138.1L279.0 137.2L279.8 136.4L280.6 135.8L281.4 135.5L282.1 135.4L282.9 135.8L283.7 136.4L284.5 137.2L285.3 138.1L285.9 138.9L286.5 139.7L287.0 140.5L287.5 141.4L287.9 142.3L288.4 143.2L288.8 144.1L289.2 145.1L289.6 146.0L290.0 146.9L290.4 147.9L290.9 148.8L291.3 149.6L291.8 150.5L292.3 151.5L292.8 152.4L293.3 153.2L293.8 154.1L294.4 154.9L295.1 155.6L295.8 156.3L296.6 157.0L297.5 157.7L298.3 158.0L299.2 157.9L300.2 157.6L301.1 157.2L302.0 156.6L302.9 156.1L303.7 155.5L304.4 154.8L305.2 154.1L305.9 153.4L306.6 152.6L307.3 152.0L308.1 151.4L309.0 150.9L309.9 150.4L310.8 149.8L311.7 149.4L312.7 149.0L313.6 148.7L314.6 148.6L315.5 148.7L316.5 148.9L317.4 149.3L318.4 149.7L319.3 150.1L320.2 150.6L321.0 151.2L321.8 151.8L322.5 152.5L323.3 153.3L324.0 153.9L324.8 154.4L325.7 154.8L326.7 155.2L327.6 155.6L328.6 155.9L329.6 156.1L330.6 156.2L331.5 156.1L332.5 156.0L333.5 155.7L334.5 155.4L335.4 155.1L336.4 154.7L337.3 154.4L338.2 154.0L339.1 153.5L340.0 152.9L340.9 152.4L341.7 152.0L342.7 151.6L343.6 151.4L344.6 151.1L345.6 150.9L346.6 150.8L347.6 150.7L348.5 150.8L349.5 151.0L350.4 151.4L351.4 151.9L352.3 152.3L353.3 152.6L354.2 152.9L355.2 153.2L356.2 153.4L357.1 153.7L358.1 153.9L359.1 154.0L360.1 154.0L361.1 154.0L362.1 154.0L363.1 153.9L364.1 153.9L365.1 153.8L366.1 153.8L367.1 153.7L368.1 153.6L369.1 153.6L370.1 153.5L371.1 153.4L372.1 153.3L373.1 153.2L374.1 153.1L375.1 153.0L376.1 152.9L377.1 152.7L378.0 152.7L379.0 152.6L380.0 152.6L381.0 152.6L382.0 152.7L383.0 152.8L384.0 152.8L385.0 153.0L386.0 153.1L387.0 153.2L388.0 153.2L389.0 153.3L390.0 153.3L391.0 153.3L392.0 153.3L393.0 153.2L394.0 153.2L395.0 153.2L396.0 153.1L397.0 153.1L398.0 153.1L399.0 153.0L400.0 153.0L401.0 153.0L402.0 153.0L403.0 152.9L404.0 152.9L405.0 152.9L406.0 152.9L407.0 152.9L408.0 152.8L409.0 152.8L410.0 152.8L411.0 152.8L411.5 152.8" stroke="#8b8fd1" stroke-width="1.7" fill="none" stroke-linejoin="round"/>
<path d="M89.5 284.3L90.6 284.3L91.7 284.3L92.8 284.4L93.8 284.4L94.8 284.5L95.8 284.5L96.8 284.6L97.7 284.7L98.6 284.8L99.5 285.0L100.4 285.2L101.2 285.6L102.0 286.3L102.8 287.0L103.5 287.8L104.2 288.5L104.9 289.3L105.5 290.1L106.1 290.9L106.7 291.7L107.4 292.5L108.1 293.1L108.9 293.8L109.8 294.4L110.7 294.8L111.6 294.8L112.6 294.8L113.6 294.7L114.6 294.7L115.7 294.6L116.7 294.5L117.6 294.3L118.6 294.0L119.6 293.8L120.6 293.6L121.6 293.6L122.5 293.6L123.5 293.7L124.5 293.7L125.5 293.8L126.5 293.8L127.5 293.9L128.6 293.9L129.6 294.0L130.6 294.0L131.6 294.0L132.6 294.1L133.6 294.1L134.6 294.1L135.6 294.1L136.6 294.1L137.6 294.2L138.6 294.2L139.6 294.2L140.6 294.2L141.6 294.2L142.6 294.2L143.6 294.3L144.6 294.3L145.6 294.3L146.6 294.3L147.6 294.3L148.6 294.3L149.6 294.3L150.6 294.3L151.6 294.3L152.6 294.3L153.6 294.3L154.6 294.3L155.6 294.3L156.6 294.3L157.6 294.3L158.6 294.2L159.6 294.2L160.6 294.2L161.6 294.2L162.6 294.2L163.6 294.2L164.6 294.1L165.6 294.1L166.6 294.1L167.6 294.1L168.5 294.0L169.5 294.0L170.6 294.0L171.6 294.0L172.6 293.9L173.7 293.9L174.8 293.8L175.8 293.8L176.9 293.7L177.9 293.6L178.8 293.5L179.7 293.4L180.5 293.3L181.3 293.1L182.0 292.6L182.7 292.0L183.4 291.3L184.1 290.5L184.7 289.6L185.3 288.6L185.9 287.6L186.5 286.7L187.1 285.8L187.7 284.9L188.2 284.1L188.7 283.3L189.3 282.4L189.8 281.5L190.3 280.7L190.7 279.8L191.2 278.9L191.7 278.0L192.2 277.1L192.6 276.2L193.1 275.3L193.5 274.5L194.0 273.6L194.5 272.7L194.9 271.8L195.4 270.9L195.7 270.0L196.1 269.0L196.4 268.1L196.8 267.2L197.1 266.2L197.4 265.3L197.7 264.3L198.0 263.3L198.3 262.4L198.5 261.4L198.8 260.4L199.0 259.5L199.3 258.5L199.5 257.5L199.7 256.5L199.9 255.6L200.1 254.6L200.3 253.6L200.5 252.6L200.7 251.6L200.9 250.7L201.0 249.7L201.2 248.7L201.3 247.7L201.5 246.7L201.6 245.7L201.8 244.7L201.9 243.7L202.0 242.7L202.2 241.7L202.3 240.8L202.4 239.8L202.5 238.8L202.7 237.8L202.8 236.8L202.9 235.8L203.0 234.8L203.1 233.8L203.3 232.8L203.4 231.8L203.5 230.8L203.6 229.8L203.7 228.8L203.8 227.8L203.9 226.8L204.0 225.8L204.1 224.9L204.2 223.9L204.3 222.9L204.4 221.9L204.5 220.9L204.6 219.9L204.7 218.9L204.8 217.9L204.9 216.9L205.0 215.9L205.1 214.9L205.3 213.9L205.4 212.9L205.5 211.9L205.6 210.9L205.7 209.9L205.7 208.9L205.8 207.9L205.9 206.9L206.0 205.9L206.1 204.9L206.2 204.0L206.3 203.0L206.4 202.0L206.4 201.0L206.5 200.0L206.6 199.0L206.6 198.0L206.7 197.0L206.8 196.0L206.8 195.0L206.9 194.0L206.9 193.0L207.0 192.0L207.1 191.0L207.1 190.0L207.2 189.0L207.2 188.0L207.3 187.0L207.3 186.0L207.4 185.0L207.4 184.0L207.5 183.0L207.5 182.0L207.6 181.0L207.6 180.0L207.7 179.0L207.7 178.0L207.8 177.0L207.8 176.0L207.9 175.0L207.9 174.0L208.0 173.0L208.0 172.0L208.1 171.0L208.1 170.0L208.1 169.0L208.2 168.0L208.2 167.0L208.3 166.0L208.3 165.0L208.4 164.0L208.4 163.0L208.5 162.0L208.5 161.0L208.5 160.0L208.6 159.0L208.6 158.0L208.7 157.0L208.7 156.0L208.8 155.0L208.8 154.0L208.8 153.0L208.9 152.0L208.9 151.0L209.0 150.0L209.0 149.0L209.0 148.0L209.1 147.0L209.1 146.0L209.2 145.0L209.2 144.0L209.2 143.0L209.3 142.0L209.3 141.0L209.4 140.0L209.4 139.0L209.4 138.0L209.5 137.0L209.5 136.0L209.6 135.0L209.6 134.0L209.7 133.0L209.7 132.0L209.8 131.0L209.8 130.0L209.8 129.0L209.9 128.0L209.9 127.0L210.0 126.0L210.0 125.0L210.1 124.1L210.1 123.1L210.2 122.1L210.2 121.1L210.2 120.1L210.3 119.1L210.3 118.1L210.4 117.1L210.4 116.1L210.5 115.1L210.5 114.1L210.6 113.1L210.6 112.1L210.7 111.1L210.7 110.1L210.8 109.1L210.8 108.1L210.9 107.1L210.9 106.1L211.0 105.1L211.0 104.1L211.1 103.1L211.2 102.1L211.2 101.1L211.3 100.1L211.4 99.1L211.4 98.1L211.5 97.1L211.6 96.1L211.7 95.1L211.7 94.1L211.8 93.1L211.9 92.1L212.0 91.1L212.1 90.1L212.2 89.1L212.3 88.1L212.4 87.1L212.5 86.1L212.6 85.1L212.7 84.1L212.8 83.1L212.9 82.1L213.0 81.1L213.2 80.2L213.3 79.2L213.4 78.2L213.6 77.2L213.7 76.2L213.9 75.0L214.1 73.8L214.3 72.5L214.5 71.2L214.7 69.9L214.9 68.7L215.2 67.6L215.4 66.7L215.6 66.0L215.9 65.6L216.1 65.4L216.3 65.5L216.5 66.0L216.8 66.6L217.0 67.5L217.2 68.6L217.4 69.7L217.7 71.0L217.9 72.3L218.1 73.6L218.3 74.8L218.5 76.0L218.6 77.1L218.8 78.1L218.9 79.0L219.0 80.0L219.2 81.0L219.3 82.0L219.4 83.0L219.5 84.0L219.6 85.0L219.7 86.0L219.9 87.0L220.0 88.0L220.1 89.0L220.2 90.0L220.3 91.0L220.3 92.0L220.4 93.0L220.5 94.0L220.6 95.0L220.7 96.0L220.8 97.0L220.8 98.0L220.9 98.9L221.0 99.9L221.1 100.9L221.1 101.9L221.2 102.9L221.3 103.9L221.3 104.9L221.4 105.9L221.4 106.9L221.5 107.9L221.5 108.9L221.6 109.9L221.6 110.9L221.7 111.9L221.7 112.9L221.8 113.9L221.8 114.9L221.9 115.9L221.9 116.9L222.0 117.9L222.0 118.9L222.1 119.9L222.1 120.9L222.2 121.9L222.2 122.9L222.3 123.9L222.3 124.9L222.4 125.9L222.4 126.9L222.5 127.9L222.5 128.9L222.6 129.9L222.7 130.9L222.7 131.9L222.8 132.9L222.8 133.9L222.9 134.9L222.9 135.9L223.0 136.9L223.1 137.9L223.1 138.9L223.2 139.9L223.2 140.9L223.3 141.9L223.4 142.9L223.4 143.9L223.5 144.9L223.5 145.9L223.6 146.9L223.7 147.9L223.7 148.9L223.8 149.9L223.8 150.9L223.9 151.9L224.0 152.9L224.0 153.9L224.1 154.9L224.2 155.9L224.2 156.9L224.3 157.9L224.4 158.9L224.5 159.9L224.5 160.9L224.6 161.8L224.7 162.8L224.8 163.8L224.9 164.8L224.9 165.8L225.0 166.8L225.1 167.8L225.2 168.8L225.3 169.8L225.4 170.8L225.5 171.8L225.6 172.8L225.6 173.8L225.7 174.8L225.8 175.8L225.9 176.8L226.0 177.8L226.1 178.8L226.3 179.8L226.4 180.8L226.5 181.8L226.6 182.8L226.8 183.8L226.9 184.8L227.0 185.8L227.2 186.8L227.4 187.8L227.5 188.7L227.7 189.7L227.9 190.7L228.1 191.6L228.4 192.8L228.8 194.0L229.2 195.2L229.6 196.4L230.0 197.5L230.5 198.4L230.9 199.1L231.3 199.5L231.7 199.6L232.1 199.3L232.5 198.7L232.9 197.8L233.3 196.8L233.7 195.6L234.1 194.3L234.4 193.1L234.8 192.0L235.0 190.9L235.3 190.0L235.5 189.0L235.7 188.1L235.9 187.1L236.1 186.1L236.3 185.1L236.5 184.1L236.7 183.2L236.8 182.2L237.0 181.2L237.2 180.2L237.3 179.2L237.5 178.2L237.6 177.2L237.7 176.2L237.9 175.2L238.0 174.2L238.2 173.2L238.3 172.2L238.4 171.2L238.6 170.2L238.7 169.2L238.8 168.3L239.0 167.3L239.1 166.3L239.2 165.3L239.3 164.3L239.4 163.3L239.5 162.3L239.6 161.3L239.7 160.3L239.8 159.3L239.9 158.3L240.0 157.3L240.1 156.3L240.2 155.3L240.3 154.3L240.4 153.3L240.4 152.3L240.5 151.3L240.6 150.3L240.7 149.3L240.8 148.3L240.9 147.3L241.0 146.3L241.1 145.3L241.2 144.3L241.3 143.3L241.4 142.3L241.5 141.3L241.6 140.3L241.7 139.3L241.8 138.4L241.9 137.4L242.1 136.4L242.2 135.4L242.3 134.4L242.5 133.4L242.6 132.4L242.8 131.4L242.9 130.5L243.1 129.5L243.3 128.5L243.4 127.5L243.6 126.5L243.9 125.5L244.1 124.5L244.3 123.5L244.6 122.5L244.9 121.6L245.2 120.6L245.5 119.7L245.9 118.8L246.3 117.9L246.8 116.8L247.5 115.8L248.1 115.1L248.7 115.0L249.3 115.6L250.0 116.5L250.6 117.5L251.0 118.5L251.4 119.4L251.7 120.3L251.9 121.3L252.2 122.2L252.4 123.2L252.7 124.2L252.9 125.2L253.1 126.2L253.3 127.2L253.4 128.2L253.6 129.2L253.8 130.2L254.0 131.2L254.2 132.2L254.4 133.1L254.6 134.1L254.8 135.1L255.0 136.1L255.2 137.1L255.3 138.1L255.5 139.0L255.7 140.0L255.8 141.0L256.0 142.0L256.2 143.0L256.4 144.0L256.5 145.0L256.7 145.9L256.9 146.9L257.1 147.9L257.3 148.9L257.5 149.9L257.7 150.8L257.9 151.8L258.1 152.8L258.3 153.8L258.4 154.8L258.6 155.8L258.8 156.8L259.1 157.8L259.3 158.8L259.5 159.7L259.7 160.7L260.0 161.7L260.2 162.6L260.5 163.6L260.8 164.5L261.2 165.4L261.5 166.5L262.0 167.7L262.5 168.8L263.0 169.8L263.5 170.5L264.1 170.9L264.6 170.8L265.2 170.2L265.8 169.3L266.4 168.3L267.0 167.2L267.4 166.1L267.8 165.3L268.2 164.4L268.5 163.4L268.9 162.5L269.2 161.5L269.5 160.6L269.7 159.6L270.0 158.6L270.3 157.7L270.6 156.7L270.8 155.7L271.1 154.7L271.4 153.8L271.7 152.8L272.0 151.9L272.4 150.9L272.7 150.0L273.0 149.0L273.4 148.0L273.7 147.0L274.0 146.1L274.4 145.1L274.8 144.2L275.2 143.2L275.6 142.3L276.0 141.5L276.5 140.6L277.0 139.8L277.5 139.0L278.2 138.1L279.0 137.2L279.8 136.4L280.6 135.8L281.4 135.5L282.1 135.4L282.9 135.8L283.7 136.4L284.5 137.2L285.3 138.1L285.9 138.9L286.5 139.7L287.0 140.5L287.5 141.4L287.9 142.3L288.4 143.2L288.8 144.1L289.2 145.1L289.6 146.0L290.0 146.9L290.4 147.9L290.9 148.8L291.3 149.6L291.8 150.5L292.3 151.5L292.8 152.4L293.3 153.2L293.8 154.1L294.4 154.9L295.1 155.6L295.8 156.3L296.6 157.0L297.5 157.7L298.3 158.0L299.2 157.9L300.2 157.6L301.1 157.2L302.0 156.6L302.9 156.1L303.7 155.5L304.4 154.8L305.2 154.1L305.9 153.4L306.6 152.6L307.3 152.0L308.1 151.4L309.0 150.9L309.9 150.4L310.8 149.8L311.7 149.4L312.7 149.0L313.6 148.7L314.6 148.6L315.5 148.7L316.5 148.9L317.4 149.3L318.4 149.7L319.3 150.1L320.2 150.6L321.0 151.2L321.8 151.8L322.5 152.5L323.3 153.3L324.0 153.9L324.8 154.4L325.7 154.8L326.7 155.2L327.6 155.6L328.6 155.9L329.6 156.1L330.6 156.2L331.5 156.1L332.5 156.0L333.5 155.7L334.5 155.4L335.4 155.1L336.4 154.7L337.3 154.4L338.2 154.0L339.1 153.5L340.0 152.9L340.9 152.4L341.7 152.0L342.7 151.6L343.6 151.4L344.6 151.1L345.6 150.9L346.6 150.8L347.6 150.7L348.5 150.8L349.5 151.0L350.4 151.4L351.4 151.9L352.3 152.3L353.3 152.6L354.2 152.9L355.2 153.2L356.2 153.4L357.1 153.7L358.1 153.9L359.1 154.0L360.1 154.0L361.1 154.0L362.1 154.0L363.1 153.9L364.1 153.9L365.1 153.8L366.1 153.8L367.1 153.7L368.1 153.6L369.1 153.6L370.1 153.5L371.1 153.4L372.1 153.3L373.1 153.2L374.1 153.1L375.1 153.0L376.1 152.9L377.1 152.7L378.0 152.7L379.0 152.6L380.0 152.6L381.0 152.6L382.0 152.7L383.0 152.8L384.0 152.8L385.0 153.0L386.0 153.1L387.0 153.2L388.0 153.2L389.0 153.3L390.0 153.3L391.0 153.3L392.0 153.3L393.0 153.2L394.0 153.2L395.0 153.2L396.0 153.1L397.0 153.1L398.0 153.1L399.0 153.0L400.0 153.0L401.0 153.0L402.0 153.0L403.0 152.9L404.0 152.9L405.0 152.9L406.0 152.9L407.0 152.9L408.0 152.8L409.0 152.8L410.0 152.8L411.0 152.8L411.5 152.8" stroke="#4e52ac" stroke-opacity="0.55" stroke-width="0.8" fill="none" stroke-linejoin="round" stroke-dasharray="1.5 2.5"/>
<path d="M247.4 58.5h7.4l-3.7 4.2z" fill="#000"/>
<path d="M405.8 174l4.4-3.2v6.4z" fill="#1a2a7a"/>
<circle cx="147.4" cy="268.8" r="0.8" fill="#222"/>
<rect x="88.7" y="58.3" width="323.8" height="260.1" fill="none" stroke="#333" stroke-width="1.9"/>
<g fill="#333" stroke="#333" stroke-width="0.45" font-family="'Liberation Sans', sans-serif">
<text x="55.1" y="185.9" font-size="15.4" textLength="7.4" lengthAdjust="spacingAndGlyphs">V</text>
<text x="62.7" y="188.2" font-size="12.3" textLength="16.8" lengthAdjust="spacingAndGlyphs">SW</text>
<text x="40.4" y="201.8" font-size="14" textLength="39.1" lengthAdjust="spacingAndGlyphs">2V/DIV</text>
<text x="227.4" y="335.6" font-size="14.6" textLength="45.8" lengthAdjust="spacingAndGlyphs">4ns/DIV</text>
<text x="377.9" y="329.8" font-size="8.2" fill="#555" stroke="#555" stroke-width="0.25" textLength="34.4" lengthAdjust="spacingAndGlyphs">an144 F03</text>
</g>
</g>
<g filter="url(#br)">
<path d="M668.1 58.2V306.6M688.6 58.2V306.6M705.3 58.2V306.6M719.4 58.2V306.6M731.6 58.2V306.6M742.4 58.2V306.6M752.0 58.2V306.6M815.5 58.2V306.6M852.6 58.2V306.6M878.9 58.2V306.6" stroke="#66505b" stroke-width="1.4" fill="none"/>
<path d="M641.8 83.0H889.7M641.8 107.9H889.7M641.8 132.7H889.7M641.8 157.6H889.7M641.8 182.4H889.7M641.8 207.2H889.7M641.8 232.1H889.7M641.8 256.9H889.7M641.8 281.8H889.7" stroke="#4a4a4a" stroke-width="1" fill="none"/>
<rect x="661" y="94" width="209" height="20.5" fill="#fff"/>
<path d="M642.3 228.2L642.3 272.3L645.5 232.2L648.2 271.3L651.0 227.9L653.7 269.8L655.9 227.1L658.0 272.4L660.5 229.4L662.9 261.6L665.1 228.7L667.1 247.1L669.3 225.8L671.6 265.0L673.6 227.3L675.5 272.1L677.6 226.1L679.7 263.9L681.4 225.3L683.2 262.7L685.3 220.8L687.2 236.8L689.2 223.3L690.8 263.7L692.6 219.0L694.2 262.0L696.0 214.8L697.4 257.5L699.1 213.9L700.5 262.0L701.9 214.4L703.4 261.0L704.7 212.0L706.1 264.6L707.4 214.7L708.8 261.1L710.0 213.6L711.5 259.8L713.0 211.2L714.1 258.5L715.3 212.7L716.6 254.7L718.1 211.2L719.5 252.4L720.8 209.7L722.1 248.0L723.4 211.2L724.8 252.0L725.9 212.1L726.9 242.6L727.9 211.7L729.2 245.1L730.2 211.6L731.3 227.7L732.4 208.6L733.4 241.0L734.3 207.5L735.3 238.8L736.2 205.9L737.1 247.2L738.3 206.1L739.3 245.2L740.2 207.6L741.3 250.6L742.1 206.4L743.1 243.2L744.0 204.6L745.0 243.4L746.0 203.6L747.0 247.3L747.8 204.1L748.8 244.5L749.8 206.4L750.7 237.9L751.6 205.5L752.5 244.4L753.4 203.3L754.3 236.6L755.1 201.2L756.0 224.3L756.8 202.7L757.5 236.7L758.4 205.0L759.1 239.7L759.8 204.7L760.5 238.3L761.3 205.1L762.1 236.3L762.9 204.7L763.8 235.8L764.6 202.8L765.3 239.5L766.1 202.3L767.0 233.2L767.7 200.8L768.4 235.9L769.1 200.3L769.9 236.9L770.5 201.8L771.1 239.5L771.8 200.4L772.5 217.4L773.2 202.4L773.8 215.6L774.5 201.3L775.2 240.8L775.9 204.4L776.5 237.3L777.1 203.3L777.7 232.7L778.4 202.7L779.0 234.9L779.6 201.8L780.3 233.2L781.0 199.8L781.7 241.8L782.3 200.8L782.9 241.2L783.6 202.3L784.2 241.2L784.8 200.4L785.4 239.8L786.1 199.8L786.8 234.2L787.4 197.2L788.0 216.3L788.6 196.7L789.1 225.0L789.7 197.6L790.2 232.2L790.7 196.8L791.3 231.9L792.0 196.7L792.5 225.5L793.0 196.1L793.6 227.3L794.2 194.9L794.8 226.0L795.4 195.0L796.0 230.6L796.5 194.4L797.0 229.9L797.6 196.6L798.1 231.4L798.6 193.6L799.1 224.9L799.7 195.4L800.2 227.7L800.7 194.3L801.2 230.2L801.7 193.1L802.2 222.1L802.8 193.5L803.2 221.6L803.7 193.5L804.2 213.2L804.7 194.3L805.2 222.0L805.7 194.4L806.2 220.7L806.6 193.8L807.1 222.7L807.7 195.4L808.1 224.8L808.7 195.2L809.2 225.2L809.6 196.0L810.1 223.0L810.5 192.7L811.0 219.8L811.5 192.4L812.1 204.5L812.6 190.8L813.1 215.2L813.6 188.3L814.2 212.5L814.6 187.7L815.0 212.5L815.6 184.9L816.0 209.2L816.6 183.4L817.0 198.4L817.5 180.6L818.0 197.6L818.5 178.3L818.9 195.5L819.4 176.2L819.9 188.3L820.4 171.4L820.8 185.2L821.3 169.0L821.8 180.3L822.4 166.9L823.0 178.0L823.5 163.6L824.0 174.4L824.5 164.0L825.0 170.1L825.6 162.0L826.1 165.7L826.6 161.3L827.1 170.3L827.6 162.3L828.1 169.7L828.7 164.9L829.2 171.9L829.8 167.4L830.4 173.5L830.8 167.4L831.2 174.6L831.7 169.0L832.2 176.2L832.8 168.9L833.3 176.0L833.8 168.4L834.4 179.2L834.8 169.7L835.3 180.7L835.9 173.2L836.4 182.9L836.9 176.0L837.4 185.1L837.9 178.9L838.3 186.7L838.8 179.2L839.4 186.9L840.0 179.5L840.5 189.5L841.1 179.4L841.5 192.0L842.1 184.0L842.6 190.3L843.1 182.7L843.6 190.1L844.1 184.1L844.7 192.0L845.2 185.5L845.7 195.9L846.2 188.9L846.7 197.7L847.3 190.6L847.8 202.9L848.3 194.4L848.8 205.0L849.3 195.3L849.9 207.2L850.3 196.9L850.8 205.2L851.3 197.7L851.7 204.0L852.2 198.1L852.7 206.4L853.3 196.7L853.8 200.0L854.4 196.2L854.8 205.2L855.4 195.1L855.8 206.9L856.3 194.2L856.9 203.5L857.3 191.4L857.9 195.4L858.4 190.8L858.8 200.0L859.3 187.8L859.8 193.9L860.4 187.5L860.8 202.3L861.3 189.0L861.7 202.4L862.3 191.7L862.8 202.3L863.3 190.5L863.7 203.8L864.2 189.2L864.7 201.2L865.1 187.3L865.6 202.2L866.2 185.1L866.7 201.6L867.2 184.2L867.7 201.9L868.2 185.5L868.7 201.4L869.1 186.5L869.5 202.2L870.0 185.5L870.5 200.3L871.0 185.3L871.5 202.2L872.0 185.8L872.5 200.4L873.1 186.0L873.6 198.3L874.1 184.0L874.7 198.1L875.3 184.6L875.8 196.2L876.3 183.4L876.8 197.3L877.3 182.7L877.7 194.8L878.2 182.2L878.6 188.8L879.2 180.9L879.6 186.8L880.1 180.0L880.6 191.2L881.1 179.2L881.6 190.3L882.0 179.5L882.6 190.6L883.1 181.4L883.6 190.3L884.2 182.6L884.7 188.5L885.2 182.8L885.7 188.8L886.3 180.6L886.8 188.2L887.3 177.5L887.7 190.2L888.3 176.6L888.7 188.4L889.3 176.7" stroke="#8f1130" stroke-width="2.1" fill="none" stroke-linejoin="round"/>
<path d="M642.3 228.2L642.3 237.0L644.8 229.6L647.0 242.0L649.4 229.7L651.6 236.7L653.6 226.4L655.9 236.6L657.7 228.5L659.8 233.6L662.0 227.9L664.1 230.8L666.3 227.5L668.4 231.7L670.0 226.8L671.5 230.0L673.1 228.7L675.0 231.3L676.7 225.3L678.1 236.7L679.9 226.0L681.6 228.9L683.2 221.3L684.6 227.6L686.3 219.9L687.8 229.3L689.2 220.8L690.6 228.7L691.8 219.2L693.2 225.5L694.4 217.4L695.8 224.2L697.0 214.3L698.3 225.8L699.6 214.4" stroke="#8f1130" stroke-width="2.0" fill="none" stroke-linejoin="round"/>
<path d="M735.0 206.4L736.0 205.3L737.0 204.5L738.0 205.3L739.0 206.7L740.0 207.4L741.0 207.9L742.0 207.3L743.0 205.6L744.0 204.4L745.0 203.9L746.0 203.6L747.0 203.5L748.0 204.2L749.0 203.4L750.0 205.4L751.0 205.4L752.0 205.8L753.0 204.1L754.0 202.6L755.0 201.3L756.0 201.5L757.0 202.7L758.0 204.2L759.0 205.2L760.0 204.5L761.0 204.6L762.0 204.6L763.0 204.1L764.0 203.3L765.0 202.2L766.0 202.7L767.0 201.7L768.0 200.5L769.0 200.2L770.0 199.7L771.0 200.9L772.0 200.3L773.0 201.2L774.0 201.2L775.0 201.9L776.0 204.1L777.0 203.3L778.0 203.1L779.0 201.6L780.0 200.5L781.0 199.8L782.0 200.3L783.0 201.3L784.0 200.6L785.0 200.5L786.0 198.8L787.0 198.2L788.0 197.4L789.0 197.7L790.0 196.8L791.0 196.0L792.0 195.7L793.0 195.9L794.0 195.4L795.0 195.2L796.0 194.3L797.0 194.9L798.0 194.0L799.0 193.9L800.0 193.2L801.0 193.0L802.0 194.0L803.0 193.6L804.0 193.7L805.0 193.8L806.0 193.6L807.0 194.1L808.0 193.8L809.0 194.2L810.0 193.9L811.0 192.3L812.0 191.2L813.0 189.7L814.0 188.0L815.0 186.3L816.0 183.7L817.0 183.3L818.0 179.6L819.0 176.2L820.0 172.3L821.0 169.3L822.0 167.1L823.0 165.8L824.0 163.4L825.0 161.8L826.0 161.5L827.0 161.3L828.0 162.0L829.0 164.2L830.0 166.4L831.0 168.1L832.0 168.5L833.0 168.4L834.0 169.3L835.0 169.8L836.0 172.3L837.0 176.0L838.0 178.5L839.0 179.3L840.0 179.1L841.0 179.8L842.0 181.2L843.0 182.0L844.0 183.6L845.0 184.4L846.0 187.2L847.0 189.4L848.0 192.4L849.0 194.8L850.0 197.0L851.0 197.2L852.0 198.1L853.0 196.4L854.0 195.7L855.0 195.6L856.0 193.1L857.0 191.4L858.0 190.3L859.0 188.3L860.0 187.8L861.0 188.2L862.0 189.0L863.0 190.1L864.0 190.1L865.0 187.1L866.0 185.4L867.0 184.4L868.0 184.9L869.0 184.9L870.0 185.6L871.0 185.2L872.0 184.3L873.0 184.1L874.0 183.1L875.0 182.8L876.0 182.5L877.0 182.7L878.0 182.4L879.0 181.5L880.0 179.9L881.0 179.1L882.0 179.9L883.0 180.7L884.0 182.3L885.0 181.7L886.0 180.6L887.0 179.2L888.0 176.9L889.0 177.1L889.0 188.5L888.0 187.8L887.0 190.0L886.0 189.6L885.0 187.9L884.0 189.9L883.0 191.3L882.0 190.0L881.0 189.7L880.0 190.7L879.0 191.0L878.0 192.6L877.0 194.5L876.0 196.0L875.0 195.4L874.0 200.6L873.0 199.5L872.0 198.2L871.0 201.2L870.0 202.4L869.0 202.9L868.0 201.7L867.0 202.4L866.0 201.6L865.0 201.4L864.0 201.8L863.0 202.4L862.0 202.7L861.0 201.6L860.0 198.6L859.0 201.0L858.0 203.9L857.0 204.5L856.0 204.9L855.0 205.2L854.0 205.4L853.0 206.9L852.0 205.4L851.0 205.2L850.0 204.5L849.0 205.3L848.0 204.0L847.0 201.9L846.0 199.2L845.0 195.1L844.0 191.4L843.0 192.9L842.0 189.1L841.0 190.2L840.0 189.4L839.0 188.3L838.0 186.1L837.0 184.0L836.0 181.8L835.0 182.1L834.0 179.1L833.0 176.8L832.0 174.0L831.0 172.9L830.0 171.9L829.0 170.0L828.0 169.5L827.0 168.0L826.0 169.4L825.0 172.2L824.0 172.9L823.0 175.4L822.0 177.6L821.0 183.8L820.0 185.6L819.0 194.7L818.0 196.3L817.0 203.3L816.0 209.5L815.0 214.0L814.0 215.0L813.0 221.4L812.0 218.4L811.0 222.6L810.0 223.6L809.0 221.2L808.0 221.8L807.0 225.4L806.0 220.6L805.0 222.6L804.0 222.2L803.0 222.9L802.0 227.7L801.0 227.5L800.0 228.4L799.0 228.3L798.0 227.3L797.0 226.8L796.0 228.0L795.0 229.5L794.0 230.1L793.0 229.5L792.0 229.0L791.0 231.4L790.0 231.8L789.0 232.1L788.0 231.5L787.0 230.8L786.0 234.2L785.0 235.3L784.0 236.6L783.0 232.3L782.0 235.3L781.0 234.6L780.0 233.5L779.0 236.9L778.0 234.4L777.0 238.0L776.0 238.7L775.0 236.0L774.0 240.1L773.0 239.2L772.0 240.9L771.0 238.4L770.0 240.2L769.0 239.9L768.0 237.0L767.0 238.3L766.0 236.9L765.0 234.0L764.0 236.4L763.0 236.7L762.0 239.2L761.0 237.5L760.0 240.1L759.0 239.2L758.0 240.1L757.0 238.1L756.0 238.0L755.0 237.3L754.0 236.2L753.0 243.1L752.0 240.7L751.0 244.3L750.0 241.0L749.0 241.9L748.0 241.2L747.0 241.0L746.0 240.7L745.0 240.7L744.0 244.2L743.0 242.6L742.0 243.7L741.0 245.9L740.0 246.1L739.0 245.6L738.0 246.0L737.0 242.8L736.0 242.9L735.0 244.7Z" fill="#8f1130"/>
<path d="M642.3 256.9L642.3 304.9L645.4 259.1L648.1 298.7L650.5 258.9L653.0 299.7L655.1 256.9L657.5 300.4L659.8 259.5L661.8 299.5L664.2 261.5L666.3 297.8L668.5 259.0L670.7 296.4L672.8 256.5L674.8 293.6L676.6 252.2L678.4 291.9L680.1 249.2L681.8 296.3L683.6 247.9L685.3 292.5L687.2 247.9L688.7 294.5L690.6 246.8L692.1 294.1L693.8 243.8L695.7 287.7L697.0 245.3L698.7 288.5L700.4 245.3L702.1 280.4L703.8 244.4L705.2 273.8L706.6 245.5L708.2 272.7L709.6 247.9L710.8 282.5L712.1 244.3L713.4 281.5L714.8 246.6L716.3 277.5L717.6 245.3L718.8 278.0L720.1 245.7L721.3 282.6L722.4 245.1L723.6 276.0L724.9 244.6L725.9 278.3L727.0 241.4L728.1 267.4L729.2 241.5L730.4 273.2L731.4 240.9L732.4 273.4L733.6 240.5L734.6 272.0L735.7 240.6L736.8 264.0L737.9 240.0L738.9 270.8L740.0 239.8L740.9 274.7L741.8 239.9L742.8 272.1L743.7 238.7L744.6 253.2L745.4 237.4L746.5 264.8L747.4 238.7L748.3 263.5L749.3 238.3L750.1 273.1L750.8 237.2L751.7 275.4L752.4 237.2L753.3 272.8L754.1 238.0L755.0 272.7L756.0 235.6L756.7 254.0L757.4 233.9L758.3 263.9L759.2 236.3L760.0 259.6L760.7 236.8L761.4 259.1L762.2 234.8L763.0 258.0L763.7 234.0L764.6 263.5L765.5 233.7L766.3 257.5L767.1 231.7L767.8 257.9L768.6 231.4L769.2 251.2L769.9 232.8L770.6 252.8L771.3 231.4L772.0 252.5L772.8 233.4L773.5 257.9L774.2 234.0L774.9 260.1L775.6 234.8L776.2 251.5L776.8 232.3L777.5 255.2L778.1 231.0L778.7 247.0L779.4 230.6L780.0 246.3L780.6 229.4L781.3 250.3L781.9 228.0L782.6 249.6L783.2 228.0L783.7 251.4L784.4 226.5L785.0 242.7L785.6 228.4L786.2 252.5L786.8 226.8L787.3 255.0L787.8 225.4L788.3 251.1L789.0 225.1L789.6 243.6L790.2 225.8L790.8 245.9L791.4 223.8L791.9 240.4L792.4 225.2L792.9 238.9L793.5 223.5L794.1 243.9L794.7 221.0L795.3 246.6L795.8 219.2L796.4 250.3L796.9 219.3L797.5 242.9L798.0 220.3L798.6 240.8L799.1 220.2L799.6 243.5L800.2 218.1L800.7 242.3L801.2 217.5L801.7 242.1L802.3 217.0L802.9 241.7L803.4 216.2L803.9 237.4L804.4 217.0L804.9 239.7L805.3 215.9L805.8 244.1L806.3 213.9L806.8 240.2L807.4 212.0L807.8 236.3L808.3 212.3L808.8 234.2L809.3 211.8L809.8 235.8L810.3 210.8L810.8 237.5L811.4 211.5L811.9 229.9L812.5 207.6L813.0 236.1L813.6 207.2L814.0 231.1L814.5 206.8L815.1 233.3L815.6 206.7L816.1 231.0L816.6 206.1L817.1 217.4L817.5 205.0L818.0 228.4L818.5 201.0L819.1 221.0L819.6 197.2L820.1 221.4L820.5 198.0L821.0 218.4L821.6 193.9L822.2 210.8L822.7 189.8L823.3 209.9L823.8 190.1L824.2 209.9L824.7 191.0L825.2 202.1L825.6 194.8L826.1 218.4L826.6 195.4L827.1 218.8L827.6 196.5L828.2 221.7L828.6 196.9L829.1 222.9L829.7 198.3L830.2 217.5L830.7 199.9L831.2 226.8L831.7 199.6L832.2 221.7L832.8 204.7L833.3 235.6L833.8 207.0L834.3 229.8L834.8 212.8L835.3 229.7L835.7 212.6L836.2 236.4L836.7 213.8L837.2 232.8L837.7 215.1L838.2 233.3L838.7 216.6L839.2 234.6L839.7 217.8L840.2 229.0L840.7 217.5L841.2 236.0L841.8 218.7L842.2 228.9L842.6 221.2L843.1 238.5L843.7 221.4L844.2 240.5L844.6 221.2L845.1 234.8L845.6 222.2L846.1 243.3L846.5 223.3L847.1 243.0L847.6 224.9L848.2 240.7L848.7 224.5L849.3 242.8L849.8 222.6L850.4 242.5L850.9 223.0L851.4 244.0L851.9 223.2L852.3 236.4L852.8 224.8L853.3 243.5L853.8 224.3L854.3 238.4L854.8 225.6L855.3 237.8L855.8 228.5L856.4 238.3L856.8 228.6L857.4 240.9L858.0 230.2L858.5 245.9L859.0 234.3L859.4 244.2L859.9 232.4L860.4 246.2L861.0 232.4L861.4 248.6L862.0 232.8L862.4 248.9L863.0 232.0L863.5 248.8L864.1 233.1L864.6 244.0L865.1 231.9L865.6 246.1L866.0 232.2L866.5 243.5L867.0 233.2L867.5 243.1L868.0 234.3L868.5 243.3L869.0 235.8L869.5 243.4L869.9 237.1L870.4 244.5L870.9 235.2L871.4 244.3L871.9 236.3L872.4 248.3L872.9 235.0L873.3 246.4L873.8 233.3L874.2 242.3L874.7 233.6L875.3 242.2L875.8 234.9L876.3 242.4L876.9 233.7L877.4 240.6L877.9 232.9L878.4 239.8L878.8 233.7L879.4 238.6L879.9 235.3L880.5 238.1L880.9 232.7L881.4 237.0L881.9 233.0L882.4 237.5L882.8 232.5L883.4 238.9L883.9 230.9L884.5 234.7L885.1 230.3L885.6 239.1L886.1 228.8L886.7 239.0L887.2 229.0L887.7 235.7L888.2 228.0L888.7 235.5L889.3 228.6" stroke="#3752a8" stroke-width="2.4" fill="none" stroke-linejoin="round"/>
<path d="M642.3 256.9L642.3 276.0L644.4 258.0L646.9 275.1L648.9 259.1L651.2 274.4L653.3 258.6L655.2 275.8L657.4 258.7L659.4 277.1L661.1 259.7L662.9 268.2L664.8 261.1L666.6 276.3L668.3 257.2L669.9 273.9L671.8 256.6L673.8 264.0L675.6 251.7L677.2 257.5L678.9 250.0L680.5 255.5L682.1 249.2L683.7 264.0L685.1 248.1L686.7 259.2L688.3 247.7L689.8 254.7L691.3 247.1L692.7 252.7L694.0 244.3L695.3 261.5L696.4 245.4L698.0 257.5L699.3 245.2L700.5 253.4L701.7 244.4L702.9 260.6L704.2 245.0L705.4 256.0L706.7 244.7L708.0 255.3L709.3 246.4L710.4 253.7L711.4 244.1L712.6 258.6L713.8 244.6L714.8 258.6L715.8 246.7L717.0 260.9L717.9 246.2L718.8 250.6L719.9 245.3" stroke="#3752a8" stroke-width="2.0" fill="none" stroke-linejoin="round"/>
<path d="M705.0 244.4L706.0 244.5L707.0 245.3L708.0 246.0L709.0 246.3L710.0 245.0L711.0 243.9L712.0 242.3L713.0 243.9L714.0 245.1L715.0 245.6L716.0 245.7L717.0 245.0L718.0 244.8L719.0 244.5L720.0 244.5L721.0 244.2L722.0 244.5L723.0 245.1L724.0 245.3L725.0 244.2L726.0 241.7L727.0 240.2L728.0 241.5L729.0 241.0L730.0 241.3L731.0 241.6L732.0 240.7L733.0 240.8L734.0 239.8L735.0 240.1L736.0 239.8L737.0 240.1L738.0 240.6L739.0 240.7L740.0 240.4L741.0 240.3L742.0 239.1L743.0 239.1L744.0 238.3L745.0 237.3L746.0 238.2L747.0 237.8L748.0 238.5L749.0 237.9L750.0 238.3L751.0 237.4L752.0 236.6L753.0 236.8L754.0 236.0L755.0 235.3L756.0 234.4L757.0 234.2L758.0 234.7L759.0 235.4L760.0 236.0L761.0 235.4L762.0 233.7L763.0 233.9L764.0 233.5L765.0 232.7L766.0 232.6L767.0 231.8L768.0 231.4L769.0 231.1L770.0 231.1L771.0 230.9L772.0 231.4L773.0 231.1L774.0 232.3L775.0 233.1L776.0 233.4L777.0 231.9L778.0 230.8L779.0 230.3L780.0 229.4L781.0 229.9L782.0 228.2L783.0 227.3L784.0 228.2L785.0 226.8L786.0 226.1L787.0 226.2L788.0 226.2L789.0 224.8L790.0 224.8L791.0 224.4L792.0 224.1L793.0 223.4L794.0 222.1L795.0 220.4L796.0 218.7L797.0 219.1L798.0 220.4L799.0 219.1L800.0 218.1L801.0 217.3L802.0 217.3L803.0 216.3L804.0 216.4L805.0 216.1L806.0 215.0L807.0 212.4L808.0 211.7L809.0 211.2L810.0 211.0L811.0 210.7L812.0 208.2L813.0 206.5L814.0 205.8L815.0 205.9L816.0 206.7L817.0 205.6L818.0 202.4L819.0 199.5L820.0 197.2L821.0 194.6L822.0 191.4L823.0 188.9L824.0 188.2L825.0 190.7L826.0 194.4L827.0 195.1L828.0 195.9L829.0 197.2L830.0 198.2L831.0 198.5L832.0 200.2L833.0 204.2L834.0 208.1L835.0 211.3L836.0 213.4L837.0 215.1L838.0 215.8L839.0 216.1L840.0 217.0L841.0 218.7L842.0 219.2L843.0 220.0L844.0 221.3L845.0 222.1L846.0 224.1L847.0 224.1L848.0 223.9L849.0 223.5L850.0 222.1L851.0 222.8L852.0 222.6L853.0 223.3L854.0 224.0L855.0 226.1L856.0 227.0L857.0 229.3L858.0 230.3L859.0 231.9L860.0 232.8L861.0 231.7L862.0 231.9L863.0 231.7L864.0 231.4L865.0 232.1L866.0 232.6L867.0 233.4L868.0 235.1L869.0 234.5L870.0 235.3L871.0 236.0L872.0 234.5L873.0 234.9L874.0 233.4L875.0 233.9L876.0 233.8L877.0 233.0L878.0 233.1L879.0 234.5L880.0 234.0L881.0 233.6L882.0 232.7L883.0 231.4L884.0 231.6L885.0 229.4L886.0 229.1L887.0 228.5L888.0 228.0L889.0 227.3L889.0 238.7L888.0 237.6L887.0 238.4L886.0 238.2L885.0 239.7L884.0 238.4L883.0 240.3L882.0 241.1L881.0 241.5L880.0 238.3L879.0 242.4L878.0 240.1L877.0 242.6L876.0 241.9L875.0 246.4L874.0 244.2L873.0 248.3L872.0 248.5L871.0 247.9L870.0 246.2L869.0 239.7L868.0 244.6L867.0 242.4L866.0 245.5L865.0 246.6L864.0 247.7L863.0 249.3L862.0 247.7L861.0 249.0L860.0 247.5L859.0 248.2L858.0 249.3L857.0 241.4L856.0 242.7L855.0 245.9L854.0 242.2L853.0 247.7L852.0 248.0L851.0 248.4L850.0 246.5L849.0 245.8L848.0 246.7L847.0 243.7L846.0 246.4L845.0 245.6L844.0 243.7L843.0 241.7L842.0 241.0L841.0 239.8L840.0 237.9L839.0 240.0L838.0 239.3L837.0 236.4L836.0 238.0L835.0 233.2L834.0 235.4L833.0 232.5L832.0 231.3L831.0 229.3L830.0 227.5L829.0 227.0L828.0 221.9L827.0 223.3L826.0 222.4L825.0 219.3L824.0 217.8L823.0 219.0L822.0 219.6L821.0 212.2L820.0 212.6L819.0 215.0L818.0 218.1L817.0 221.5L816.0 220.8L815.0 223.9L814.0 220.3L813.0 223.5L812.0 223.3L811.0 227.5L810.0 226.2L809.0 229.7L808.0 230.5L807.0 227.4L806.0 228.9L805.0 232.4L804.0 229.7L803.0 230.9L802.0 230.4L801.0 234.2L800.0 235.0L799.0 234.4L798.0 233.9L797.0 235.8L796.0 239.0L795.0 237.6L794.0 238.3L793.0 240.0L792.0 236.2L791.0 236.9L790.0 236.2L789.0 242.5L788.0 241.9L787.0 244.9L786.0 243.8L785.0 240.3L784.0 241.5L783.0 242.5L782.0 242.6L781.0 243.3L780.0 242.5L779.0 245.2L778.0 245.9L777.0 247.3L776.0 244.2L775.0 249.1L774.0 249.6L773.0 247.0L772.0 247.9L771.0 248.7L770.0 248.5L769.0 249.5L768.0 250.5L767.0 250.1L766.0 251.2L765.0 251.0L764.0 248.5L763.0 249.2L762.0 250.8L761.0 251.7L760.0 251.7L759.0 254.1L758.0 252.9L757.0 252.7L756.0 255.7L755.0 255.9L754.0 255.8L753.0 259.6L752.0 259.4L751.0 255.4L750.0 257.0L749.0 258.5L748.0 259.6L747.0 258.7L746.0 258.9L745.0 258.9L744.0 258.9L743.0 260.5L742.0 258.2L741.0 255.6L740.0 260.4L739.0 260.2L738.0 256.7L737.0 258.9L736.0 257.8L735.0 259.4L734.0 259.3L733.0 262.8L732.0 264.3L731.0 264.2L730.0 262.2L729.0 260.3L728.0 260.5L727.0 263.2L726.0 260.3L725.0 264.6L724.0 267.1L723.0 263.8L722.0 265.3L721.0 264.7L720.0 264.0L719.0 267.2L718.0 268.5L717.0 267.1L716.0 266.1L715.0 267.1L714.0 266.1L713.0 263.4L712.0 266.4L711.0 267.5L710.0 267.6L709.0 268.3L708.0 268.5L707.0 267.3L706.0 267.0L705.0 268.2Z" fill="#3752a8"/>
<path d="M641.8 133.0H828.4V115.5H889.7" stroke="#2f8a4c" stroke-width="2" fill="none"/>
<rect x="641.8" y="58.2" width="247.9" height="248.4" fill="none" stroke="#3a3a3a" stroke-width="1.5"/>
<g fill="#333" stroke="#333" stroke-width="0.32" font-family="'Liberation Sans', sans-serif" font-size="12.8">
<text x="621.3" y="62.9" textLength="13.0" lengthAdjust="spacingAndGlyphs">60</text>
<text x="621.3" y="87.7" textLength="13.0" lengthAdjust="spacingAndGlyphs">50</text>
<text x="621.3" y="112.6" textLength="13.0" lengthAdjust="spacingAndGlyphs">40</text>
<text x="621.3" y="137.4" textLength="13.0" lengthAdjust="spacingAndGlyphs">30</text>
<text x="621.3" y="162.3" textLength="13.0" lengthAdjust="spacingAndGlyphs">20</text>
<text x="621.3" y="187.1" textLength="13.0" lengthAdjust="spacingAndGlyphs">10</text>
<text x="628.3" y="211.9" textLength="6.0" lengthAdjust="spacingAndGlyphs">0</text>
<text x="614.3" y="236.8" textLength="20.0" lengthAdjust="spacingAndGlyphs">–10</text>
<text x="614.3" y="261.6" textLength="20.0" lengthAdjust="spacingAndGlyphs">–20</text>
<text x="614.3" y="286.5" textLength="20.0" lengthAdjust="spacingAndGlyphs">–30</text>
<text x="614.3" y="311.3" textLength="20.0" lengthAdjust="spacingAndGlyphs">–40</text>
<text x="634.9" y="324.3" textLength="13.3" lengthAdjust="spacingAndGlyphs">30</text>
<text x="743" y="324.3" textLength="18.4" lengthAdjust="spacingAndGlyphs">100</text>
<text x="880.3" y="324.3" textLength="19.2" lengthAdjust="spacingAndGlyphs">450</text>
<text x="714.3" y="341.9" textLength="102.2" lengthAdjust="spacingAndGlyphs">FREQUENCY (MHz)</text>
<text x="665.5" y="109.4" font-size="13.6" textLength="200.5" lengthAdjust="spacingAndGlyphs">CISPR22 RADIATED CLASS B LIMITS</text>
<text transform="translate(604.9 268.7) rotate(-90)" font-size="12.4" textLength="171.9" lengthAdjust="spacingAndGlyphs">RADIATED NOISE LEVEL (dBµV)</text>
</g>
</g>
</svg>
<p class="cap"><span class="a">Silent Switcher:</span> <span class="b">10-20dB</span><span class="c">的改善</span></p>
</body></html>
